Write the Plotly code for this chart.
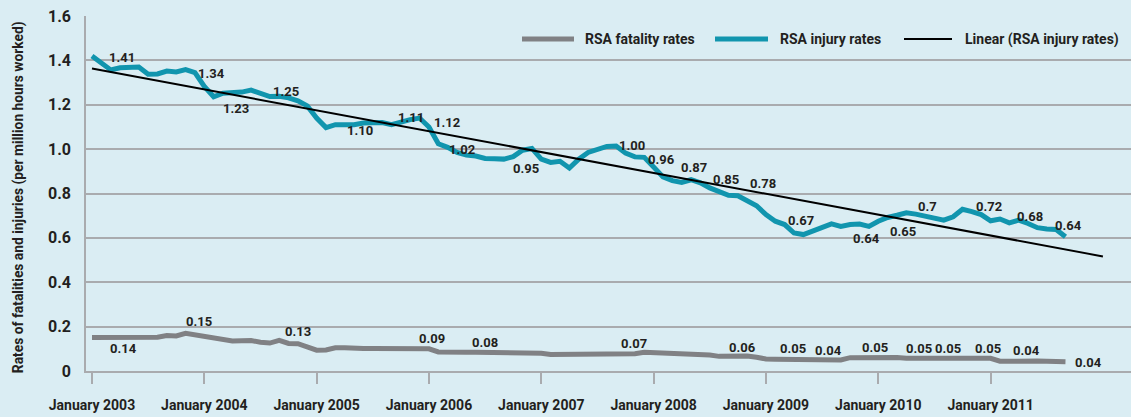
import numpy as np
import plotly.graph_objects as go

# ---- data (monthly, January 2003 .. September 2011) ----
injury_rates = [
    1.42, 1.39, 1.357, 1.367, 1.371, 1.37, 1.338, 1.339, 1.352, 1.348, 1.358, 1.345,
    1.283, 1.236, 1.252, 1.254, 1.257, 1.266, 1.253, 1.237, 1.238, 1.231, 1.218, 1.195,
    1.14, 1.097, 1.11, 1.111, 1.11, 1.118, 1.121, 1.12, 1.11, 1.123, 1.133, 1.14,
    1.10, 1.024, 1.008, 0.985, 0.973, 0.969, 0.958, 0.957, 0.955, 0.966, 0.995, 1.003,
    0.955, 0.94, 0.945, 0.915, 0.955, 0.985, 1.0, 1.012, 1.014, 0.982, 0.965, 0.963,
    0.92, 0.875, 0.858, 0.85, 0.862, 0.848, 0.825, 0.81, 0.792, 0.79, 0.765, 0.745,
    0.705, 0.675, 0.66, 0.622, 0.615, 0.632, 0.643, 0.663, 0.652, 0.66, 0.662, 0.652,
    0.675, 0.692, 0.702, 0.713, 0.707, 0.698, 0.69, 0.68, 0.695, 0.729, 0.718, 0.705,
    0.677, 0.685, 0.668, 0.68, 0.665, 0.646, 0.64, 0.638, 0.605,
]
fatality_rates = [
    0.151, 0.151, 0.151, 0.15, 0.15, 0.153, 0.15, 0.152, 0.16, 0.158, 0.17, 0.162,
    0.157, 0.15, 0.138, 0.135, 0.136, 0.137, 0.13, 0.126, 0.138, 0.124, 0.123, 0.108,
    0.094, 0.095, 0.105, 0.105, 0.101, 0.101, 0.101, 0.101, 0.101, 0.101, 0.101, 0.101,
    0.10, 0.086, 0.084, 0.084, 0.084, 0.084, 0.084, 0.084, 0.084, 0.084, 0.084, 0.084,
    0.08, 0.074, 0.074, 0.074, 0.074, 0.074, 0.074, 0.074, 0.074, 0.074, 0.078, 0.084,
    0.083, 0.078, 0.078, 0.078, 0.078, 0.078, 0.072, 0.066, 0.067, 0.068, 0.068, 0.062,
    0.054, 0.053, 0.053, 0.048, 0.048, 0.052, 0.051, 0.048, 0.05, 0.06, 0.061, 0.061,
    0.062, 0.062, 0.061, 0.057, 0.057, 0.057, 0.057, 0.057, 0.057, 0.057, 0.057, 0.057,
    0.057, 0.044, 0.045, 0.047, 0.046, 0.045, 0.044, 0.043, 0.042,
]
months = list(range(len(injury_rates)))
trend_forecast_months = 4

tick_months = [0, 12, 24, 36, 48, 60, 72, 84, 96]
tick_labels = ["January 2003", "January 2004", "January 2005", "January 2006",
               "January 2007", "January 2008", "January 2009", "January 2010",
               "January 2011"]
y_ticks = [0, 0.2, 0.4, 0.6, 0.8, 1.0, 1.2, 1.4, 1.6]
y_tick_labels = ["0", "0.2", "0.4", "0.6", "0.8", "1.0", "1.2", "1.4", "1.6"]

series_names = ["RSA fatality rates", "RSA injury rates", "Linear (RSA injury rates)"]

# data labels as printed on the chart (month position, label y, text)
injury_label_month = [3.2, 12.8, 15.4, 20.7, 28.6, 34.1, 37.9, 39.5, 46.4, 57.7, 60.8,
                      64.3, 67.7, 71.7, 75.7, 82.7, 86.6, 89.3, 95.8, 100.2, 104.3]
injury_label_y = [1.414, 1.341, 1.183, 1.259, 1.082, 1.143, 1.118, 1.0, 0.913, 1.015, 0.955,
                  0.916, 0.865, 0.845, 0.677, 0.597, 0.630, 0.740, 0.740, 0.695, 0.657]
injury_label_text = ["1.41", "1.34", "1.23", "1.25", "1.10", "1.11", "1.12", "1.02", "0.95",
                     "1.00", "0.96", "0.87", "0.85", "0.78", "0.67", "0.64", "0.65", "0.7",
                     "0.72", "0.68", "0.64"]
fatality_label_month = [3.4, 11.4, 22.0, 36.3, 42.0, 57.9, 69.5, 74.9, 78.7, 83.7, 88.3,
                        91.4, 95.7, 99.8, 106.5]
fatality_label_y = [0.101, 0.221, 0.180, 0.146, 0.128, 0.126, 0.108, 0.101, 0.093, 0.104,
                    0.101, 0.101, 0.101, 0.091, 0.037]
fatality_label_text = ["0.14", "0.15", "0.13", "0.09", "0.08", "0.07", "0.06", "0.05", "0.04",
                       "0.05", "0.05", "0.05", "0.05", "0.04", "0.04"]

# ---- linear trend of the injury rates (with a short forecast) ----
slope, intercept = np.polyfit(months, injury_rates, 1)
trend_x = [0, months[-1] + trend_forecast_months]
trend_y = [intercept + slope * x for x in trend_x]

FONT = "Roboto, Liberation Sans, sans-serif"
TEXT = "#231f20"
GRID = "#a9abae"
BG = "#daedf3"
TEAL = "#1195ae"
GREY = "#808184"
colors = [GREY, TEAL, "black"]
widths = [5, 5, 2]

fig = go.Figure()
fig.add_trace(go.Scatter(x=months, y=fatality_rates, mode="lines", name=series_names[0],
                         line=dict(color=GREY, width=5), showlegend=False))
fig.add_trace(go.Scatter(x=months, y=injury_rates, mode="lines", name=series_names[1],
                         line=dict(color=TEAL, width=5), showlegend=False))
fig.add_trace(go.Scatter(x=trend_x, y=trend_y, mode="lines", name=series_names[2],
                         line=dict(color="black", width=2), showlegend=False))

for mx, my, t in zip(injury_label_month + fatality_label_month,
                     injury_label_y + fatality_label_y,
                     injury_label_text + fatality_label_text):
    fig.add_annotation(x=mx, y=my, text=t, showarrow=False,
                       font=dict(family=FONT, size=13, color=TEXT, weight="bold"))

# ---- legend (drawn as key lines + text, top right) ----
PLOT_L, PLOT_W, PLOT_B, PLOT_H = 86, 1045, 371, 355
def px_x(p):
    return (p - PLOT_L) / PLOT_W
legend_y = (PLOT_B - 39) / PLOT_H
legend_key_start = [522, 715, 904]
legend_key_end = [574, 768, 952]
legend_text_start = [583, 778, 963]
for name, c, w, k0, k1, t0 in zip(series_names, colors, widths, legend_key_start,
                                  legend_key_end, legend_text_start):
    fig.add_shape(type="line", xref="paper", yref="paper", x0=px_x(k0), x1=px_x(k1),
                  y0=legend_y, y1=legend_y, line=dict(color=c, width=w))
    fig.add_annotation(xref="paper", yref="paper", x=px_x(t0), y=legend_y, xanchor="left",
                       yanchor="middle", showarrow=False, text=name,
                       font=dict(family=FONT, size=14, color=TEXT, weight="bold"))

fig.add_annotation(xref="paper", yref="paper", x=-0.065, y=0.49, xanchor="center",
                   yanchor="middle", textangle=-90, showarrow=False,
                   text="Rates of fatalities and injuries (per million hours worked)",
                   font=dict(family=FONT, size=13.8, color=TEXT, weight="bold"))

fig.update_layout(
    width=1131, height=417,
    margin=dict(l=86, r=0, t=16, b=46, autoexpand=False),
    paper_bgcolor=BG, plot_bgcolor=BG,
    font=dict(family=FONT, size=14, color=TEXT, weight="bold"),
    showlegend=False,
    xaxis=dict(range=[-0.64, 111.0], tickmode="array", tickvals=tick_months,
               ticktext=tick_labels, showgrid=False, zeroline=False, automargin=False,
               showline=True, linecolor=GRID, linewidth=1.5,
               ticks="outside", ticklen=11, tickcolor=GRID, tickwidth=1.5,
               ticklabelstandoff=9,
               tickfont=dict(family=FONT, size=14, color=TEXT, weight="bold")),
    yaxis=dict(range=[0, 1.6], tickmode="array", tickvals=y_ticks, ticktext=y_tick_labels,
               showgrid=True, gridcolor=GRID, gridwidth=1.5, zeroline=False, automargin=False,
               showline=True, linecolor=GRID, linewidth=1.5, ticks="",
               ticklabelstandoff=10,
               tickfont=dict(family=FONT, size=16, color=TEXT, weight="bold")),
)

fig.write_html("out.html", config={"displayModeBar": False},
               post_script="document.body.style.margin='0px';"
                           "document.body.style.background='#daedf3';")
